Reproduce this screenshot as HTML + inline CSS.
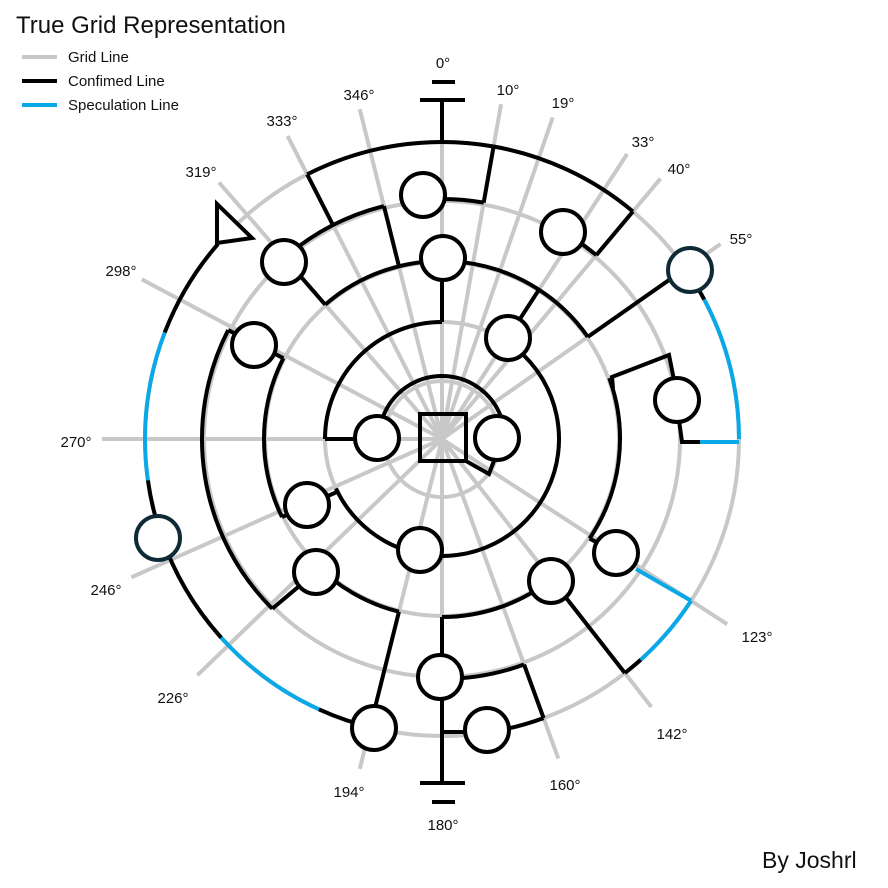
<!DOCTYPE html>
<html><head><meta charset="utf-8">
<style>
html,body{margin:0;padding:0;background:#fff;}
svg{display:block;}
text{font-family:"Liberation Sans",sans-serif;fill:#111;}
</style></head>
<body>
<svg id="s" width="888" height="888" viewBox="0 0 888 888" xmlns="http://www.w3.org/2000/svg">
<rect width="888" height="888" fill="#fff"/>
<g id="gray" stroke="#c8c8c8" stroke-width="4" fill="none"></g>
<g id="blk" stroke="#000" stroke-width="4" fill="none" stroke-linecap="butt"></g>
<g id="blu" stroke="#0aa8e6" stroke-width="4" fill="none"></g>
<g id="nodes" stroke="#000" stroke-width="4" fill="#fff"></g>
<text x="16" y="33" font-size="24">True Grid Representation</text>
<line x1="22" y1="57" x2="57" y2="57" stroke="#c8c8c8" stroke-width="4"/>
<line x1="22" y1="81" x2="57" y2="81" stroke="#000" stroke-width="4"/>
<line x1="22" y1="105" x2="57" y2="105" stroke="#0aa8e6" stroke-width="4"/>
<text x="68" y="62" font-size="15">Grid Line</text>
<text x="68" y="86" font-size="15">Confimed Line</text>
<text x="68" y="110" font-size="15">Speculation Line</text>
<text x="762" y="868" font-size="23">By Joshrl</text>
<g font-size="15" text-anchor="middle">
<text x="443" y="68">0°</text><text x="508" y="95">10°</text><text x="563" y="108">19°</text>
<text x="643" y="147">33°</text><text x="679" y="174">40°</text><text x="741" y="244">55°</text>
<text x="757" y="642">123°</text><text x="672" y="739">142°</text><text x="565" y="790">160°</text>
<text x="443" y="830">180°</text><text x="349" y="797">194°</text><text x="173" y="703">226°</text>
<text x="106" y="595">246°</text><text x="76" y="447">270°</text><text x="121" y="276">298°</text>
<text x="201" y="177">319°</text><text x="282" y="126">333°</text><text x="359" y="100">346°</text>
</g>
</svg>
<script>
var cx=442,cy=439,NS="http://www.w3.org/2000/svg";
function P(a,r){var t=a*Math.PI/180;return [cx+r*Math.sin(t),cy-r*Math.cos(t)];}
function add(g,tag,at){var e=document.createElementNS(NS,tag);for(var k in at)e.setAttribute(k,at[k]);document.getElementById(g).appendChild(e);return e;}
function arc(g,a1,a2,r){var p=P(a1,r),q=P(a2,r);var lg=Math.abs(a2-a1)>180?1:0;var sw=a2>a1?1:0;
add(g,"path",{d:"M"+p[0]+" "+p[1]+" A"+r+" "+r+" 0 "+lg+" "+sw+" "+q[0]+" "+q[1]});}
function rad(g,a,r1,r2){var p=P(a,r1),q=P(a,r2);add(g,"line",{x1:p[0],y1:p[1],x2:q[0],y2:q[1]});}
function ln(g,pts){add(g,"polyline",{points:pts.map(function(p){return p.join(",")}).join(" ")});}
[58,117,177,238,297].forEach(function(r){add("gray","circle",{cx:cx,cy:cy,r:r});});
[0,10,19,33,40,55,123,142,160,180,194,226,246,270,298,319,333,346].forEach(function(a){rad("gray",a,0,340);});
var B="blk",L="blu";
ln(B,[[420,100],[465,100]]);ln(B,[[432,82],[455,82]]);ln(B,[[442,100],[442,142]]);
arc(B,333,370,297);rad(B,10,240,297);arc(B,356,370,240);
arc(B,370,400,297);rad(B,40,240,297);arc(B,33,40,240);
arc(B,319,346,240);rad(B,333,240,297);rad(B,346,178,240);
arc(B,319,415,178);rad(B,319,178,238);rad(B,55,178,297);
rad(B,0,117,178);arc(B,270,360,117);rad(B,270,63,117);
arc(B,290,430,63);
arc(B,40,191,117);arc(B,191,245,117);ln(B,[[337,492],[307,505]]);
rad(B,33,117,178);
add(B,"rect",{x:420,y:414,width:46,height:47});
ln(B,[[466,461],[489,474],[495,458]]);
arc(B,55,62,297);arc(L,62,90,297);
ln(L,[[739,442],[700,442]]);ln(B,[[700,442],[682,442],[679,420]]);
ln(B,[[674,380],[669,355],[612,377],[613,388]]);
arc(B,70,124,178);var k=P(124,178);ln(B,[k,[616,553]]);
var k2=P(123,297);ln(L,[[636,569],k2]);arc(L,123,138,297);arc(B,138,142,297);rad(B,142,178,297);
arc(B,142,180,178);arc(B,160,180,240);rad(B,160,240,297);arc(B,160,171,297);
ln(B,[[466,732],[442,732]]);ln(B,[[442,P(180,178)[1]],[442,783]]);
ln(B,[[420,783],[465,783]]);ln(B,[[432,802],[455,802]]);
arc(B,194,226,178);rad(B,194,178,297);ln(B,[[316,572],P(225,240)]);
arc(B,225,297,240);rad(B,297,178,240);arc(B,244,297,178);ln(B,[P(244,178),[307,505]]);
arc(B,291,311,297);arc(L,262,291,297);arc(B,251,262,297);arc(B,228,251,297);arc(L,204.5,228,297);arc(B,193,204.5,297);
add("nodes","polygon",{points:"217,204 217,243 252,238"});
[[423,195],[563,232],[443,258],[284,262],[508,338],[254,345],[677,400],[377,438],[497,438],[307,505],[420,550],[616,553],[316,572],[551,581],[440,677],[374,728],[487,730]].forEach(function(p){add("nodes","circle",{cx:p[0],cy:p[1],r:22});});
[[690,270],[158,538]].forEach(function(p){add("nodes","circle",{cx:p[0],cy:p[1],r:22,stroke:"#0d2a35"});});
</script>
</body></html>
